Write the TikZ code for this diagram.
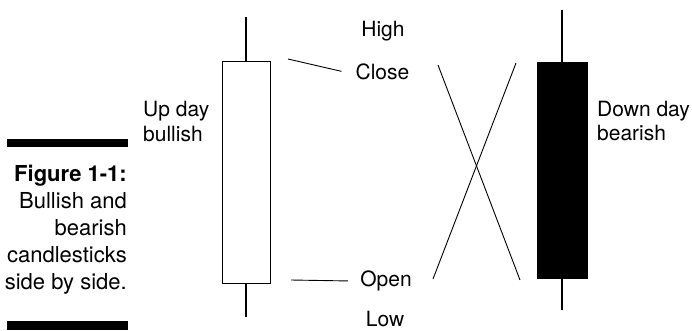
\documentclass[tikz,border=0pt]{standalone}
\usepackage{fontspec}
\setmainfont{TeX Gyre Heros}
\usetikzlibrary{positioning}

\begin{document}
\begin{tikzpicture}[x=1pt, y=-1pt, tag/.style={font=\fontsize{21}{25}\selectfont, inner sep=0pt}, captiontext/.style={font=\fontsize{22}{27}\selectfont, inner sep=0pt, anchor=base east}, candle/.style={draw, line width=0.9pt}, wick/.style={line width=1.1pt}, connector/.style={line width=0.9pt}]

    \useasboundingbox (0,0) rectangle (692,330);

    % Caption bars and caption text
    \fill (7,138.5) rectangle (128,147);
    \fill (7,320.5) rectangle (128,329.5);
    \node[captiontext] (cap-0) at (127,181.5) {\textbf{Figure 1-1:}};
    \foreach \txt [count=\i] in {Bullish and, bearish, candlesticks, side by side.}
        \node[captiontext] (cap-\i) at (127,181.5+27*\i) {\txt};

    % Up day candle - white body
    \node[candle, fill=white, minimum width=48, minimum height=222] (bull) at (246,172) {};
    \draw[wick] (bull.north) -- ++(0,-44);
    \draw[wick] (bull.south) -- ++(0,34);

    % Down day candle - black body
    \node[candle, fill=black, minimum width=50, minimum height=216] (bear) at (562,170) {};
    \draw[wick] (bear.north) -- ++(0,-52);
    \draw[wick] (bear.south) -- ++(0,32);

    % Price labels
    \node[tag, anchor=base] (high) at (383,36.5) {High};
    \node[tag, anchor=base] (close) at (382.5,79) {Close};
    \node[tag, anchor=base] (open) at (386,286.5) {Open};
    \node[tag, anchor=base] (low) at (385,326) {Low};

    % Candle labels
    \node[tag, anchor=base west] (up) at (143,116) {Up day};
    \node[tag, anchor=base west] (up-2) at (143,141) {bullish};
    \node[tag, anchor=base west] (down) at (597,116) {Down day};
    \node[tag, anchor=base west] (down-2) at (597,140) {bearish};

    % Lines from the up day body to its labels
    \coordinate (bull-close) at (288,59);
    \coordinate (bull-open) at (291,280);
    \draw[connector] (bull-close) -- ([xshift=-14pt]close.west);
    \draw[connector] (bull-open) -- ([xshift=-12pt]open.west);

    % Crossed lines for the down day
    \coordinate (cross-close) at (438,65);
    \coordinate (cross-open) at (433,279);
    \coordinate (bear-top) at (516,63);
    \coordinate (bear-bottom) at (520,280);
    \draw[connector] (cross-close) -- (bear-bottom);
    \draw[connector] (cross-open) -- (bear-top);

\end{tikzpicture}
\end{document}
